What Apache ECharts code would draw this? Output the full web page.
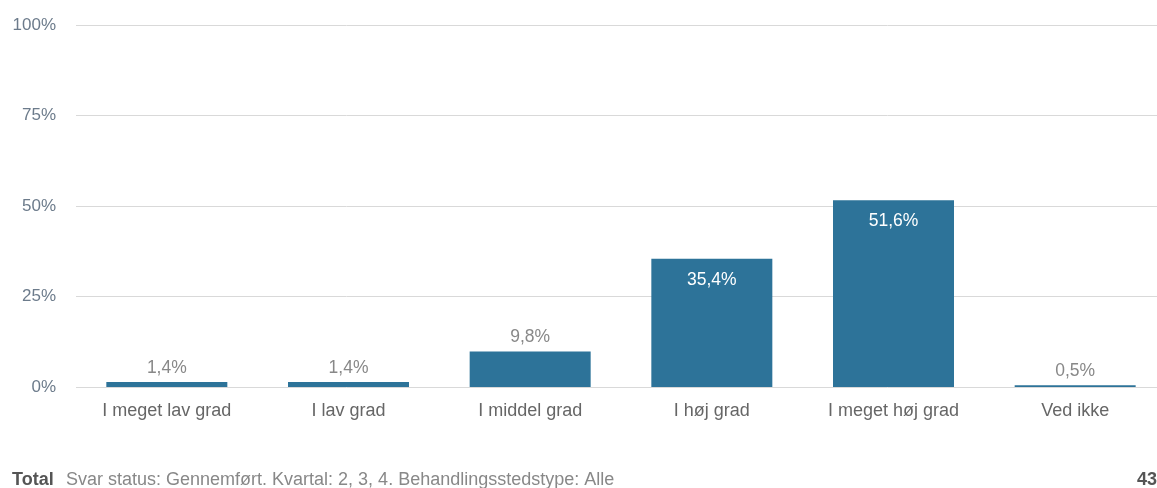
<!DOCTYPE html>
<html>
<head>
<meta charset="utf-8">
<script src="https://cdn.jsdelivr.net/npm/echarts@6/dist/echarts.min.js"></script>
<style>
  html, body { margin: 0; padding: 0; background: #fff; }
  #chart { width: 1157px; height: 488px; }
</style>
</head>
<body>
<div id="chart"></div>
<script>
  // data
  const categories = ['I meget lav grad', 'I lav grad', 'I middel grad', 'I høj grad', 'I meget høj grad', 'Ved ikke']
  const values = [1.4, 1.4, 9.8, 35.4, 51.6, 0.5]
  const yTicks = [0, 25, 50, 75, 100]
  const footerLabel = 'Total'
  const footerText = 'Svar status: Gennemført. Kvartal: 2, 3, 4. Behandlingsstedstype: Alle'
  const footerCount = '43'

  const font = '"Liberation Sans", Arial, sans-serif'
  const fmt = v => v.toFixed(1).replace('.', ',') + '%'

  let chart = echarts.init(document.getElementById('chart'))
  chart.setOption({
    animation: false,
    grid: {
      left: 76,
      top: 25,
      width: 1090,
      height: 362,
      outerBoundsMode: 'none',
      containLabel: false
    },
    xAxis: {
      type: 'category',
      data: categories,
      axisLine: { show: false },
      axisTick: { show: false },
      axisLabel: {
        color: '#666',
        fontFamily: font,
        fontSize: 18,
        margin: 15
      }
    },
    yAxis: {
      type: 'value',
      min: yTicks[0],
      max: yTicks[yTicks.length - 1],
      interval: 25,
      axisLine: { show: false },
      axisTick: { show: false },
      axisLabel: {
        color: '#6c7b8b',
        fontFamily: font,
        fontSize: 17,
        margin: 20,
        formatter: v => v + '%'
      },
      splitLine: { lineStyle: { color: '#d9d9d9', width: 1 } }
    },
    series: [
      {
        type: 'bar',
        barWidth: 121,
        itemStyle: { color: '#2d7399' },
        data: values.map(v => ({
          value: v,
          label: v > 20
            ? { position: 'insideTop', distance: 12, color: '#fff' }
            : { position: 'top', distance: 5, color: '#888' }
        })),
        label: {
          show: true,
          fontFamily: font,
          fontSize: 17.5,
          formatter: p => fmt(p.value)
        }
      }
    ],
    graphic: [
      {
        type: 'text',
        left: 12,
        top: 471,
        style: {
          text: footerLabel,
          fill: '#555',
          font: 'bold 18px ' + font
        }
      },
      {
        type: 'text',
        left: 66,
        top: 471,
        style: {
          text: footerText,
          fill: '#888',
          font: '18px ' + font
        }
      },
      {
        type: 'text',
        right: 0,
        top: 471,
        style: {
          text: footerCount,
          fill: '#555',
          font: 'bold 18px ' + font
        }
      }
    ]
  })
</script>
</body>
</html>
